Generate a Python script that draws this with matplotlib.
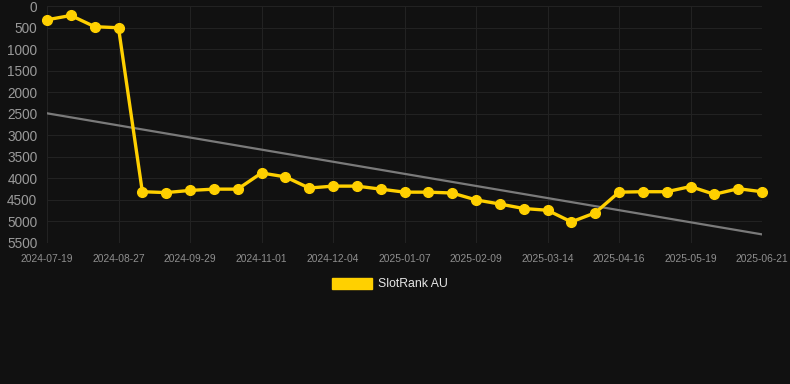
import matplotlib
matplotlib.use("Agg")
import matplotlib.pyplot as plt
import numpy as np
from matplotlib.patches import Patch

plt.rcParams["font.family"] = ["Liberation Sans", "DejaVu Sans"]

dates = ["2024-07-19", "2024-07-26", "2024-08-02", "2024-08-27", "2024-09-03", "2024-09-10",
         "2024-09-29", "2024-10-06", "2024-10-13", "2024-11-01", "2024-11-08", "2024-11-15",
         "2024-12-04", "2024-12-11", "2024-12-18", "2025-01-07", "2025-01-14", "2025-01-21",
         "2025-02-09", "2025-02-16", "2025-02-23", "2025-03-14", "2025-03-21", "2025-03-28",
         "2025-04-16", "2025-04-23", "2025-04-30", "2025-05-19", "2025-05-26", "2025-06-02",
         "2025-06-21"]
ranks = [320, 220, 480, 505, 4310, 4330, 4280, 4250, 4250, 3875, 3965, 4225,
         4180, 4180, 4250, 4320, 4320, 4340, 4500, 4595, 4700, 4740, 5010, 4800,
         4320, 4310, 4310, 4190, 4370, 4240, 4310]
trend_ends = [2490, 5300]
tick_every = 3
series_name = "SlotRank AU"

bg = "#111111"
fig = plt.figure(figsize=(7.9, 3.84), dpi=100, facecolor=bg)
W, H = 790, 384
ax = fig.add_axes([47 / W, 1 - 243 / H, (762 - 47) / W, (243 - 6) / H])
ax.set_facecolor(bg)

x = np.arange(len(ranks))
ax.plot(x, ranks, color="#FFD000", lw=2.4, marker="o", ms=7.0, zorder=3, clip_on=False)

ax.plot([x[0], x[-1]], trend_ends, color="#7a7a7a", lw=1.6, zorder=2)

ax.set_xlim(0, len(ranks) - 1)
ax.set_ylim(5500, 0)
ax.set_yticks(np.arange(0, 5501, 500))
ax.set_xticks(x[::tick_every])
ax.set_xticklabels(dates[::tick_every])

ax.grid(True, color="#222222", lw=0.8)
for s in ax.spines.values():
    s.set_visible(False)
ax.tick_params(axis="y", colors="#9a9a9a", labelsize=9.8, length=0, pad=7)
ax.tick_params(axis="x", colors="#8a8a8a", labelsize=7.4, length=0, pad=8)
for lab in ax.get_yticklabels():
    lab.set_color("#9a9a9a")
for lab in ax.get_xticklabels():
    lab.set_color("#8f8f8f")

handle = Patch(facecolor="#FFD000", edgecolor="#FFD000")
leg = fig.legend([handle], [series_name], loc="center", bbox_to_anchor=(390 / W, 1 - 284 / H),
                 frameon=False, handlelength=3.3, handleheight=1.0, fontsize=8.8,
                 labelcolor="#e6e6e6", handletextpad=0.45)

fig.savefig("out.png", dpi=100, facecolor=bg)
